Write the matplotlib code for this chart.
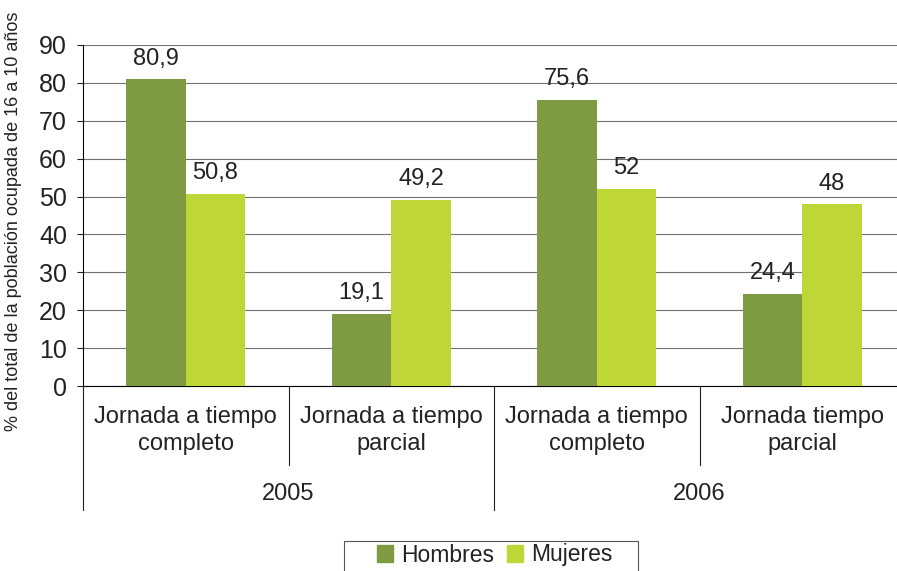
import matplotlib
matplotlib.use("Agg")
import matplotlib.pyplot as plt
import matplotlib.transforms as mtransforms
from matplotlib.patches import Patch, Rectangle

plt.rcParams['font.family'] = ['Liberation Sans', 'DejaVu Sans']

categories = ["Jornada a tiempo\ncompleto", "Jornada a tiempo\nparcial",
              "Jornada a tiempo\ncompleto", "Jornada tiempo\nparcial"]
years = ["2005", "2006"]
hombres = [80.9, 19.1, 75.6, 24.4]
mujeres = [50.8, 49.2, 52.0, 48.0]
series_names = ["Hombres", "Mujeres"]
yticks = [0, 10, 20, 30, 40, 50, 60, 70, 80, 90]

c_h = "#7E9B41"
c_m = "#BED737"
txt = "#222222"
W, H = 897, 571
fig = plt.figure(figsize=(W / 100, H / 100), dpi=100)
ax = fig.add_axes([83 / W, (H - 386) / H, (905 - 83) / W, (386 - 45) / H])

bw = 0.289
x = list(range(len(categories)))
bh = ax.bar([i - bw / 2 for i in x], hombres, width=bw, color=c_h, zorder=3)
bm = ax.bar([i + bw / 2 for i in x], mujeres, width=bw, color=c_m, zorder=3)

def fmt(v):
    s = f"{v:.1f}".replace(".", ",")
    return s[:-2] if s.endswith(",0") else s

for bars, vals in ((bh, hombres), (bm, mujeres)):
    for b, v in zip(bars, vals):
        ax.annotate(fmt(v), (b.get_x() + b.get_width() / 2, v),
                    xytext=(0, 10.5), textcoords="offset points",
                    ha="center", va="baseline", fontsize=17, color=txt)

ax.set_xlim(-0.5, len(categories) - 0.5)
ax.set_ylim(0, 90)
ax.set_yticks(yticks)
ax.yaxis.grid(True, color="#707070", lw=0.8, zorder=0)
ax.set_axisbelow(True)
ax.tick_params(axis="y", labelsize=18, length=4.5, width=0.8, colors=txt, pad=7)
ax.set_xticks([])
for s in ("top", "right"):
    ax.spines[s].set_visible(False)
ax.spines["left"].set_linewidth(0.8)
ax.spines["bottom"].set_linewidth(0.8)

fig.text(14 / W, 1 - 221 / H, "% del total de la población ocupada de 16 a 10 años",
         rotation=90, ha="center", va="center", fontsize=13, color=txt)

trans = mtransforms.blended_transform_factory(ax.transData, ax.transAxes)
# category labels and separators
for i, c in enumerate(categories):
    ax.text(i, -0.058, c, transform=trans, ha="center", va="top",
            fontsize=17, color=txt, linespacing=1.3)
for xs in (0.5, 2.5):
    ax.plot([xs, xs], [0, -0.232], transform=trans, color=txt,
            lw=0.8, clip_on=False)
# year labels and separators
for j, yr in enumerate(years):
    ax.text(2 * j + 0.5, -0.318, yr, transform=trans, ha="center", va="center",
            fontsize=17, color=txt)
for xs in (-0.5, 1.5, 3.5):
    ax.plot([xs, xs], [0, -0.364], transform=trans, color=txt,
            lw=0.8, clip_on=False)

# legend box (open at the lower edge of the figure)
fig.patches.append(Rectangle((344 / W, -0.05), (638 - 344) / W, 0.05 + 1 - 541 / H,
                             transform=fig.transFigure, fill=False,
                             edgecolor="#555555", lw=0.8))
handles = [Patch(color=c_h), Patch(color=c_m)]
leg = fig.legend(handles, series_names, loc="center",
                 bbox_to_anchor=(495 / W, 1 - 555 / H), ncol=2, frameon=False,
                 fontsize=16.5, handlelength=0.7, handleheight=0.7,
                 handletextpad=0.35, columnspacing=0.55, borderpad=0,
                 borderaxespad=0)
for t in leg.get_texts():
    t.set_color(txt)

fig.savefig("out.png", dpi=100)
